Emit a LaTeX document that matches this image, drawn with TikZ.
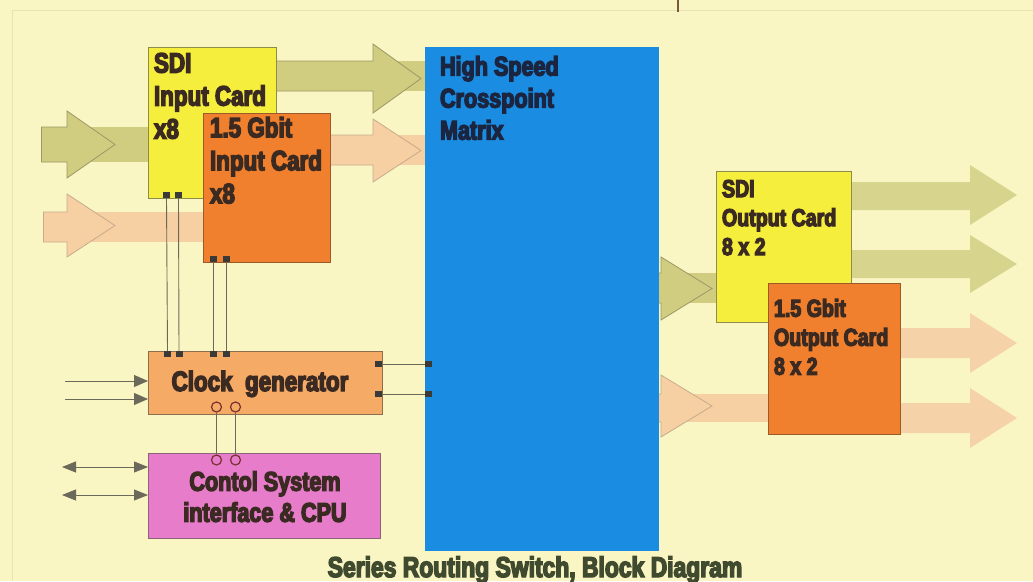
\documentclass[tikz,border=0pt]{standalone}
\usepackage{fontspec}
\newfontfamily\imp{Liberation Sans Bold}[FakeStretch=0.80,FakeBold=5]
\usetikzlibrary{arrows.meta}
\definecolor{bg}{HTML}{FAF6C4}
\definecolor{frame}{HTML}{E9E3B2}
\definecolor{yel}{HTML}{F5EE3C}
\definecolor{yelline}{HTML}{8E8C48}
\definecolor{org}{HTML}{F1802E}
\definecolor{orgline}{HTML}{9A5A2A}
\definecolor{blu}{HTML}{1A8DE2}
\definecolor{clk}{HTML}{F5AA66}
\definecolor{clkline}{HTML}{8E6E50}
\definecolor{pnk}{HTML}{E77CCA}
\definecolor{pnkline}{HTML}{8A6478}
\definecolor{agreen}{HTML}{D1CD80}
\definecolor{agreenout}{HTML}{D7D48E}
\definecolor{agline}{HTML}{9A9866}
\definecolor{aorange}{HTML}{F6CFA2}
\definecolor{aorangeout}{HTML}{F5D2A8}
\definecolor{aoline}{HTML}{C6AC8C}
\definecolor{cardtext}{HTML}{3A2A22}
\definecolor{mattext}{HTML}{1C2540}
\definecolor{titletext}{HTML}{3F4A2E}
\definecolor{wire}{HTML}{6B6A5A}
\definecolor{pin}{HTML}{3A3A38}
\definecolor{ring}{HTML}{7A3030}
\definecolor{tick}{HTML}{7A5A3A}
\newcommand\fatarrow[9]{%
  \path[#1,draw=none] (#2,#6) rectangle (#5,#7);
  \pgfmathsetmacro\tipy{(#8+#9)/2}%
  \path[#1] (#2,#6) -- (#3,#6) -- (#3,#8) -- (#4,\tipy) -- (#3,#9) -- (#3,#7) -- (#2,#7);
}
\tikzset{
  garr/.style={fill=agreen,draw=agline,line width=0.8pt},
  oarr/.style={fill=aorange,draw=aoline,line width=0.8pt},
  gout/.style={fill=agreenout,draw=none},
  oout/.style={fill=aorangeout,draw=none},
  card/.style={rectangle,anchor=north west,inner sep=0pt,outer sep=0pt,line width=0.7pt},
  txt/.style={align=left,inner sep=0pt,outer sep=0pt,anchor=north west},
  pinsq/.style={rectangle,fill=pin,inner sep=0pt,minimum width=7pt,minimum height=6pt},
  ringc/.style={circle,draw=ring,line width=1.2pt,inner sep=0pt,minimum size=10pt},
  wireline/.style={draw=wire,line width=0.9pt},
}
\begin{document}
\begin{tikzpicture}[x=1pt,y=-1pt]
\useasboundingbox (0,0) rectangle (1033,581);
\fill[bg] (0,0) rectangle (1033,581);
\draw[frame,line width=0.8pt] (12,581) -- (12,10) -- (1033,10);
\draw[tick,line width=1.2pt] (678,0) -- (678,12);

% fat arrows (behind the cards)
\fatarrow{garr}{41}{67}{115}{150}{127}{162}{111}{178}
\draw[agline,line width=0.8pt] (41,127) -- (41,162);
\fatarrow{oarr}{43}{67}{115}{205}{212}{242}{194}{257}
\draw[aoline,line width=0.8pt] (43,212) -- (43,242);
\fatarrow{garr}{276}{373}{421}{426}{61}{91}{44}{113}
\fatarrow{oarr}{330}{373}{421}{426}{135}{165}{119}{182}
\fatarrow{garr}{659}{661}{712}{718}{273}{303}{257}{320}
\fatarrow{oarr}{659}{661}{712}{770}{394}{422}{375}{437}
\fatarrow{gout}{851}{970}{1017}{851}{182}{210}{165}{225}
\fatarrow{gout}{851}{970}{1017}{851}{250}{278}{235}{293}
\fatarrow{oout}{900}{970}{1017}{900}{328}{358}{313}{373}
\fatarrow{oout}{900}{970}{1017}{900}{403}{433}{388}{448}

% cards
\node[card,fill=yel,draw=yelline,minimum width=128pt,minimum height=151pt] (sdiin) at (148,47) {};
\node[card,fill=org,draw=orgline,minimum width=127pt,minimum height=149pt] (gbin) at (203,113) {};
\node[card,fill=blu,minimum width=234pt,minimum height=504pt] (matrix) at (425,47) {};
\node[card,fill=yel,draw=yelline,minimum width=135pt,minimum height=151pt] (sdiout) at (716,171) {};
\node[card,fill=org,draw=orgline,minimum width=132pt,minimum height=151pt] (gbout) at (768,283) {};
\node[card,fill=clk,draw=clkline,minimum width=234pt,minimum height=63pt] (clock) at (148,351) {};
\node[card,fill=pnk,draw=pnkline,minimum width=232pt,minimum height=85pt] (ctrl) at (148,453) {};

% texts
\node[txt,text=cardtext,font=\imp\fontsize{28}{33}\selectfont] (tsdiin) at (154,53) {SDI\\Input Card\\x8};
\node[txt,text=cardtext,font=\imp\fontsize{28}{33}\selectfont] (tgbin) at (210,117) {1.5 Gbit\\Input Card\\x8};
\node[txt,text=mattext,font=\imp\fontsize{27}{32}\selectfont] (tmatrix) at (440,56) {High Speed\\Crosspoint\\Matrix};
\node[txt,text=cardtext,font=\imp\fontsize{24.5}{29}\selectfont] (tsdiout) at (722,180) {SDI\\Output Card\\8 x 2};
\node[txt,text=cardtext,font=\imp\fontsize{24.5}{29}\selectfont] (tgbout) at (774,299) {1.5 Gbit\\Output Card\\8 x 2};
\node[inner sep=0pt,anchor=base,text=cardtext,font=\imp\fontsize{28}{33}\selectfont] (tclock) at (260,391) {Clock\ \ generator};
\node[inner sep=0pt,anchor=north,align=center,text=cardtext,font=\imp\fontsize{27}{31}\selectfont] (tctrl) at (265,471) {Contol System\\interface \& CPU};
\node[inner sep=0pt,anchor=base,text=titletext,font=\imp\fontsize{28.6}{33}\selectfont] (title) at (535,577) {Series Routing Switch, Block Diagram};

% pins
\node[pinsq,anchor=south] (ya) at (166.5,198) {};
\node[pinsq,anchor=south] (yb) at (178.5,198) {};
\node[pinsq,anchor=south] (oa) at (213.5,262) {};
\node[pinsq,anchor=south] (ob) at (226.5,262) {};
\node[pinsq,anchor=north] (ca) at (167.5,351) {};
\node[pinsq,anchor=north] (cb) at (179,351) {};
\node[pinsq,anchor=north] (cc) at (213.5,351) {};
\node[pinsq,anchor=north] (cd) at (226.5,351) {};
\node[pinsq,anchor=east] (cr1) at (382,364) {};
\node[pinsq,anchor=east] (cr2) at (382,394) {};
\node[pinsq,anchor=west] (mr1) at (425,364) {};
\node[pinsq,anchor=west] (mr2) at (425,394) {};
\node[ringc] (r1) at (216.5,407) {};
\node[ringc] (r2) at (235.5,407) {};
\node[ringc] (s1) at (216.5,460) {};
\node[ringc] (s2) at (235.5,460) {};

% wires
\draw[wireline] (ya.south) -- (ca.north);
\draw[wireline] (yb.south) -- (cb.north);
\draw[wireline] (oa.south) -- (cc.north);
\draw[wireline] (ob.south) -- (cd.north);
\draw[wireline] (cr1.east) -- (mr1.west);
\draw[wireline] (cr2.east) -- (mr2.west);
\draw[wireline] (r1.south) -- (s1.north);
\draw[wireline] (r2.south) -- (s2.north);

\coordinate (in1) at (65,381);
\coordinate (in2) at (65,399);
\coordinate (io1) at (62,467);
\coordinate (io2) at (62,495);
\draw[wireline,-{Triangle[length=14pt,width=12pt]},fill=pin] (in1) -- (clock.west |- in1);
\draw[wireline,-{Triangle[length=14pt,width=12pt]},fill=pin] (in2) -- (clock.west |- in2);
\draw[wireline,{Triangle[length=14pt,width=11pt]}-{Triangle[length=14pt,width=11pt]}] (io1) -- (ctrl.west |- io1);
\draw[wireline,{Triangle[length=14pt,width=11pt]}-{Triangle[length=14pt,width=11pt]}] (io2) -- (ctrl.west |- io2);
\end{tikzpicture}
\end{document}
